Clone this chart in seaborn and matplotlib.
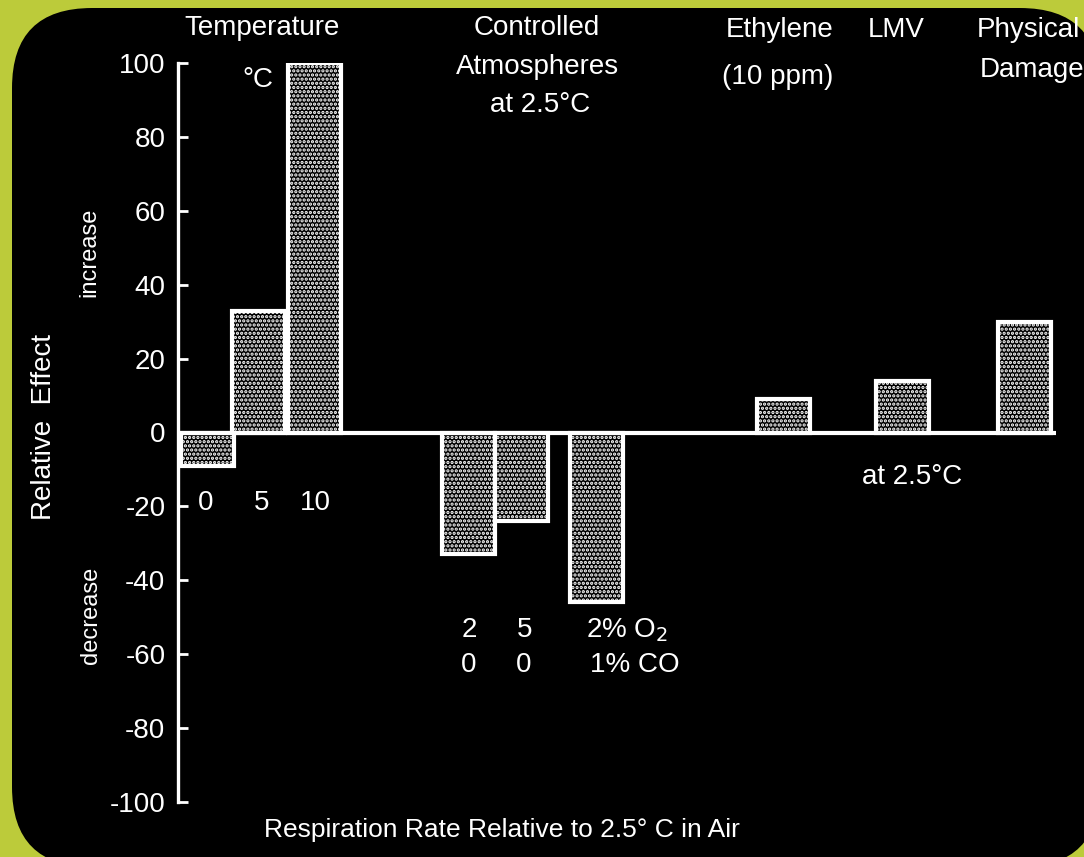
import numpy as np
import pandas as pd
import matplotlib
matplotlib.use("Agg")
import matplotlib.pyplot as plt
import seaborn as sns
from matplotlib.patches import FancyBboxPatch

# bar values (relative effect, % of 2.5 C in air)
groups = ["Temperature", "Temperature", "Temperature",
          "Controlled Atmospheres", "Controlled Atmospheres", "Controlled Atmospheres",
          "Ethylene", "LMV", "Physical Damage"]
conditions = ["0", "5", "10", "2/0", "5/0", "2% O2 / 1% CO", "10 ppm", "LMV", "damage"]
effect = [-9, 33, 100, -33, -24, -46, 9, 14, 30]
# horizontal slot of each bar on the page (pixel-like axis units)
slot = [207, 258, 314, 468, 521, 596, 783, 902, 1024]
yticks = [-100, -80, -60, -40, -20, 0, 20, 40, 60, 80, 100]

W, H = 1084, 857
BG = "#bccb3a"
FONT = ["Liberation Sans", "DejaVu Sans"]

sns.set_style("white")
plt.rcParams["font.family"] = FONT
plt.rcParams["axes.unicode_minus"] = False
plt.rcParams["hatch.linewidth"] = 1.6

fig = plt.figure(figsize=(W / 100, H / 100), dpi=100, facecolor=BG)

# black rounded panel behind everything
panel = FancyBboxPatch((0.12, -0.10), 10.88, 8.59,
                       boxstyle="round,pad=0,rounding_size=0.8",
                       transform=fig.dpi_scale_trans, facecolor="black",
                       edgecolor="none", zorder=-5)
fig.patches.append(panel)

x0, x1 = 178, 1056
y_top, y_bot = 63, 802
ax = fig.add_axes([x0 / W, (H - y_bot) / H, (x1 - x0) / W, (y_bot - y_top) / H])
ax.set_facecolor("none")

df = pd.DataFrame({"slot": slot, "effect": effect, "group": groups, "cond": conditions})
sns.barplot(data=df, x="slot", y="effect", native_scale=True, width=53 / 51,
            color="black", saturation=1, edgecolor="white", linewidth=3,
            hatch="....", errorbar=None, ax=ax, zorder=2)

ax.axhline(0, color="white", lw=3, zorder=3)
ax.set_xlim(x0, x1)
ax.set_ylim(-100, 100)
ax.set_yticks(yticks)
ax.set_yticklabels([str(t) if t >= 0 else "-" + str(-t) for t in yticks])
ax.tick_params(axis="y", left=True, direction="in", length=7, width=2,
               colors="white", labelsize=20, pad=9)
ax.set_xticks([])
ax.set_xlabel("")
ax.set_ylabel("")
for s in ["top", "right", "bottom"]:
    ax.spines[s].set_visible(False)
ax.spines["left"].set_color("white")
ax.spines["left"].set_linewidth(2.4)


def label(x, y, s, size=20, ha="center", rot=0):
    t = fig.text(x / W, 1 - y / H, s, color="white", fontsize=size, ha=ha,
                 va="center", rotation=rot, family=FONT)
    t.set_clip_path(panel)
    return t


label(262, 28, "Temperature")
label(258, 80, "°C")
label(537, 28, "Controlled")
label(537, 67, "Atmospheres")
label(540, 105, "at 2.5°C")
label(780, 30, "Ethylene")
label(778, 77, "(10 ppm)")
label(896, 30, "LMV")
label(977, 30, "Physical", ha="left")
label(980, 70, "Damage", ha="left")

label(206, 503, "0")
label(262, 503, "5")
label(315, 503, "10")
label(469, 630, "2")
label(525, 630, "5")
label(586, 630, "2% O$_2$", ha="left")
label(469, 665, "0")
label(524, 665, "0")
label(590, 665, "1% CO", ha="left")
label(912, 477, "at 2.5°C")

label(44, 427, "Relative  Effect", rot=90)
label(89, 252, "increase", size=17, rot=90)
label(91, 615, "decrease", size=17, rot=90)
label(502, 830, "Respiration Rate Relative to 2.5° C in Air", size=19)

fig.savefig("out.png", dpi=100, facecolor=BG)
